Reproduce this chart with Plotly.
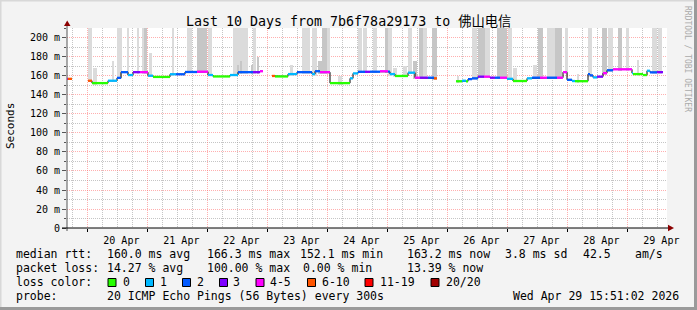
import plotly.graph_objects as go
from datetime import datetime, timedelta

# ---------------- data ----------------
START = datetime(2026, 4, 19, 15, 51, 2)
END = datetime(2026, 4, 29, 15, 51, 2)

# median RTT steps: start hour (offset from START), value in ms (None = no data), loss class
med_start_h = [0.0, 0.4, 2.0, 8.4, 10.0, 16.4, 20.0, 21.6, 24.4, 26.4, 29.2, 32.4, 34.4, 41.2, 43.6,
               47.2, 52.0, 56.4, 58.4, 65.2, 68.4, 74.4, 77.2, 78.4, 82.0, 83.2, 88.4, 92.0, 98.0,
               99.2, 101.2, 105.2, 113.2, 114.4, 116.4, 119.2, 121.2, 125.2, 128.4, 129.2, 131.2,
               136.4, 139.2, 141.2, 144.4, 146.8, 148.0, 155.6, 158.0, 159.6, 160.4, 162.0, 164.4,
               166.8, 169.2, 171.2, 173.2, 176.0, 178.4, 184.0, 186.0, 189.2, 192.0, 196.0, 198.4,
               200.0, 202.0, 203.2, 208.4, 209.2, 210.4, 212.0, 214.4, 216.0, 218.4, 226.0, 226.4,
               230.4, 232.0, 233.2, 236.0]
med_end_h = 238.4
med_value = [157, 157, None, 155, 152.5, 155, 158, 164, 161, 164, 164, 160.3, 159, 161.8, 161.8,
             164.2, 164.5, 161, 159.5, 161, 164, 164, 165, None, 160, 159.5, 162, 164, 162,
             165, 164, 152.5, 157.5, 162.7, 164.4, 164.4, 164.5, 165, 164.5, 162, 160,
             163.5, 158.2, 158.2, 158.2, 157.5, None, 154.4, 155, 154.4, 156.7, 157.5, 159.3,
             159.3, 158.2, 158.2, 158.2, 157, 154.7, 157.5, 158.2, 158.2, 158.2, 158.2, 164,
             156, 154.7, 154.5, 162, 160.6, 158.5, 159.3, 163, 166, 167, 163, 162,
             161, 165.5, 163.8, 164]
med_loss = [4, 5, 0, 5, 0, 1, 2, 2, 1, 3, 4, 1, 0, 1, 2,
            2, 4, 1, 0, 1, 2, 3, 4, 0, 5, 0, 1, 2, 1,
            2, 4, 0, 1, 1, 2, 3, 2, 4, 2, 1, 0,
            1, 4, 3, 2, 5, 0, 0, 1, 0, 2, 2, 3,
            4, 3, 2, 4, 1, 0, 1, 2, 4, 2, 4, 4,
            2, 1, 0, 2, 2, 1, 3, 4, 2, 4, 1, 0,
            0, 1, 2, 3]

# smoke (ping spread) bands: start/end hour, top value (ms), density level
TOP = 215
smoke_h0 = [8.4, 10.4, 18.0, 20.0, 24.0, 28.0, 30.0, 30.8, 32.8, 42.0, 48.0, 52.0, 56.4, 66.4, 68.0,
            69.2, 73.6, 74.4, 76.0, 89.2, 94.0, 98.0, 100.4, 102.0, 104.0, 108.4, 116.4, 118.4,
            122.4, 127.2, 128.4, 130.4, 134.4, 136.4, 138.4, 140.8, 142.4, 146.0, 156.0, 162.0,
            164.4, 167.2, 172.0, 176.4, 178.4, 186.4, 188.4, 192.0, 195.2, 199.2, 204.0, 208.4,
            214.0, 216.4, 220.4, 223.6, 228.0, 234.0, 236.4]
smoke_h1 = [10.0, 12.0, 18.8, 22.0, 24.8, 28.8, 32.0, 32.0, 34.0, 42.8, 50.0, 56.0, 58.0, 72.4, 68.8,
            70.0, 74.4, 75.6, 76.8, 90.4, 97.2, 100.0, 102.0, 104.0, 105.2, 110.0, 118.0, 120.0,
            124.0, 128.4, 130.0, 132.0, 136.0, 138.0, 140.0, 142.4, 144.0, 148.0, 156.8, 164.0,
            167.2, 169.2, 176.0, 178.0, 180.0, 188.0, 190.4, 195.2, 198.0, 200.4, 204.8, 210.0,
            216.0, 218.4, 222.0, 224.8, 228.8, 236.0, 238.0]
smoke_top = [TOP, 168, 176, TOP, TOP, TOP, TOP, TOP, 184, TOP, TOP, TOP, TOP, TOP, 172,
             176, 172, TOP, 180, 172, TOP, TOP, 176, TOP, TOP, 160, TOP, TOP,
             TOP, TOP, TOP, 168, 171, TOP, 176, TOP, TOP, TOP, 160, TOP,
             TOP, TOP, TOP, TOP, 168, 172, TOP, TOP, TOP, TOP, 162, TOP,
             TOP, TOP, TOP, TOP, 177, TOP, TOP]
smoke_level = [1, 1, 1, 1, 1, 1, 1, 2, 1, 1, 1, 2, 1, 1, 2,
               2, 2, 1, 2, 1, 1, 1, 2, 2, 1, 1, 1, 1,
               1, 2, 1, 1, 1, 1, 2, 2, 1, 2, 1, 1,
               2, 1, 2, 1, 1, 1, 2, 1, 2, 1, 1, 1,
               2, 1, 2, 1, 1, 1, 1]

loss_labels = ["0", "1", "2", "3", "4-5", "6-10", "11-19", "20/20"]
loss_colors = ["#26ff00", "#00b8ff", "#0059ff", "#7e00ff", "#ff00ff", "#ff5500", "#ff0000", "#a10000"]

y_tickvals = [0, 20, 40, 60, 80, 100, 120, 140, 160, 180, 200]
y_ticktext = ["0", "20 m", "40 m", "60 m", "80 m", "100 m", "120 m", "140 m", "160 m", "180 m", "200 m"]

legend_rows = [
    [("median rtt:", 16), ("160.0 ms avg", 107), ("166.3 ms max", 207), ("152.1 ms min", 300),
     ("163.2 ms now", 407), ("3.8 ms sd", 505), ("42.5", 583), ("am/s", 635)],
    [("packet loss:", 16), ("14.27 % avg", 107), ("100.00 % max", 207), ("0.00 % min", 303),
     ("13.39 % now", 407)],
    [("loss color:", 16)],
    [("probe:", 16), ("20 ICMP Echo Pings (56 Bytes) every 300s", 107),
     ("Wed Apr 29 15:51:02 2026", 513)],
]
title_text = "Last 10 Days from 7b6f78a29173 to 佛山电信"

# ---------------- layout geometry (pixels) ----------------
W, H = 697, 310
PL, PR, PT, PB = 67, 667, 28, 228


def px(x):
    return (x - PL) / (PR - PL)


def py(y):
    return (PB - y) / (PB - PT)


def t(h):
    return START + timedelta(hours=h)


MONO = "DejaVu Sans Mono, Noto Sans CJK SC, monospace"

fig = go.Figure()

# smoke
ends = med_start_h[1:] + [med_end_h]


def med_at(h):
    for s, e, v in zip(med_start_h, ends, med_value):
        if s <= h < e and v is not None:
            return v
    return 150


shade = {1: "#dbdbdb", 2: "#c6c6c6"}
for lvl in (1, 2):
    xs, ys, bs, ws = [], [], [], []
    for h0, h1, top, L in zip(smoke_h0, smoke_h1, smoke_top, smoke_level):
        if L != lvl:
            continue
        base = med_at((h0 + h1) / 2) - 1.5
        xs.append(t((h0 + h1) / 2))
        bs.append(base)
        ys.append(top - base)
        ws.append((h1 - h0) * 3600000)
    fig.add_trace(go.Bar(x=xs, y=ys, base=bs, width=ws, marker_color=shade[lvl],
                         marker_line_width=0, showlegend=False, hoverinfo="skip"))

# black median outline (vertical connectors)
bx, by = [], []
for s, e, v in zip(med_start_h, ends, med_value):
    if v is None:
        bx.append(None)
        by.append(None)
        continue
    bx += [t(s), t(e)]
    by += [v, v]
fig.add_trace(go.Scatter(x=bx, y=by, mode="lines", line=dict(color="#000000", width=1),
                         showlegend=False, hoverinfo="skip", connectgaps=False))

# coloured median segments
for k, col in enumerate(loss_colors):
    xs, ys = [], []
    for s, e, v, L in zip(med_start_h, ends, med_value, med_loss):
        if v is None or L != k:
            continue
        xs += [t(s), t(e), None]
        ys += [v, v, None]
    if xs:
        fig.add_trace(go.Scatter(x=xs, y=ys, mode="lines", line=dict(color=col, width=2.3),
                                 showlegend=False, hoverinfo="skip"))

shapes = []
# axis lines + arrows
shapes.append(dict(type="line", xref="paper", yref="paper", x0=px(67), x1=px(67), y0=py(231), y1=py(25),
                   line=dict(color="#555555", width=1)))
shapes.append(dict(type="line", xref="paper", yref="paper", x0=px(62), x1=px(669), y0=py(228), y1=py(228),
                   line=dict(color="#000000", width=1)))
shapes.append(dict(type="path", xref="paper", yref="paper",
                   path=f"M {px(64)},{py(26)} L {px(70.5)},{py(26)} L {px(67.2)},{py(20.5)} Z",
                   fillcolor="#8b0000", line=dict(width=0)))
shapes.append(dict(type="path", xref="paper", yref="paper",
                   path=f"M {px(668)},{py(224.8)} L {px(668)},{py(231.2)} L {px(674)},{py(228)} Z",
                   fillcolor="#8b0000", line=dict(width=0)))
# frame
shapes.append(dict(type="line", xref="paper", yref="paper", x0=px(0), x1=px(W), y0=py(0.5), y1=py(0.5),
                   line=dict(color="#d8d8d8", width=2)))
shapes.append(dict(type="line", xref="paper", yref="paper", x0=px(0.5), x1=px(0.5), y0=py(0), y1=py(H),
                   line=dict(color="#d8d8d8", width=2)))
shapes.append(dict(type="line", xref="paper", yref="paper", x0=px(0), x1=px(W), y0=py(H - 1.5), y1=py(H - 1.5),
                   line=dict(color="#9a9a9a", width=3)))
shapes.append(dict(type="line", xref="paper", yref="paper", x0=px(W - 1.5), x1=px(W - 1.5), y0=py(0), y1=py(H),
                   line=dict(color="#9a9a9a", width=3)))

annotations = []
# legend colour boxes
box_x = [108, 145.5, 182.5, 219.5, 256, 307.5, 365, 431]
lab_x = [123, 160, 197, 233, 270, 322, 380, 446]
for bxp, lxp, lab, col in zip(box_x, lab_x, loss_labels, loss_colors):
    shapes.append(dict(type="rect", xref="paper", yref="paper", x0=px(bxp), x1=px(bxp + 8),
                       y0=py(278.5), y1=py(286.5), fillcolor=col, line=dict(color="#000000", width=1)))
    legend_rows[2].append((lab, lxp))

row_y = [254, 268, 282, 296]
for yy, row in zip(row_y, legend_rows):
    for txt, xx in row:
        annotations.append(dict(text=txt.replace(" ", "\u00a0"), xref="paper", yref="paper",
                                x=px(xx - 2), y=py(yy), xanchor="left", yanchor="middle",
                                showarrow=False, font=dict(family=MONO, size=11.5, color="#000000")))

annotations.append(dict(text=title_text, xref="paper", yref="paper", x=px(348), y=py(22),
                        xanchor="center", yanchor="middle", showarrow=False,
                        font=dict(family=MONO, size=13.3, color="#000000")))
annotations.append(dict(text="Seconds", xref="paper", yref="paper", x=px(10), y=py(126),
                        xanchor="center", yanchor="middle", textangle=-90, showarrow=False,
                        font=dict(family=MONO, size=11, color="#000000")))
annotations.append(dict(text="RRDTOOL / TOBI OETIKER", xref="paper", yref="paper", x=px(688), y=py(59),
                        xanchor="center", yanchor="middle", textangle=90, showarrow=False,
                        font=dict(family=MONO, size=8, color="#aaaaaa")))

fig.update_layout(
    width=W, height=H, autosize=False,
    margin=dict(l=PL, r=W - PR, t=PT, b=H - PB, pad=0),
    paper_bgcolor="#f3f3f3", plot_bgcolor="#ffffff",
    barmode="overlay", bargap=0, showlegend=False,
    shapes=shapes, annotations=annotations,
    xaxis=dict(
        type="date", range=[START, END],
        tick0="2026-04-20 00:00:00", dtick=86400000, tickformat="%d %b", ticklabelmode="period",
        ticklabelshift=4,
        showgrid=True, gridcolor="rgba(255,110,110,0.55)", griddash="1px,1px", gridwidth=1,
        ticks="outside", ticklen=3, tickcolor="#000000",
        tickfont=dict(family=MONO, size=10, color="#000000"),
        minor=dict(dtick=21600000, tick0="2026-04-20 00:00:00", showgrid=True,
                   gridcolor="rgba(150,150,150,0.55)", griddash="1px,1px", gridwidth=1),
        showline=False, zeroline=False, fixedrange=True,
    ),
    yaxis=dict(
        range=[0, 210.5], tickmode="array", tickvals=y_tickvals, ticktext=y_ticktext,
        showgrid=True, gridcolor="rgba(255,110,110,0.55)", griddash="1px,1px", gridwidth=1,
        ticks="outside", ticklen=4, tickcolor="#555555",
        tickfont=dict(family=MONO, size=10, color="#000000"),
        minor=dict(tickvals=[10, 30, 50, 70, 90, 110, 130, 150, 170, 190, 210], showgrid=True,
                   gridcolor="rgba(150,150,150,0.55)", griddash="1px,1px", gridwidth=1,
                   ticks="outside", ticklen=2, tickcolor="#555555"),
        showline=False, zeroline=False, fixedrange=True,
    ),
)

fig.write_html("out.html")
